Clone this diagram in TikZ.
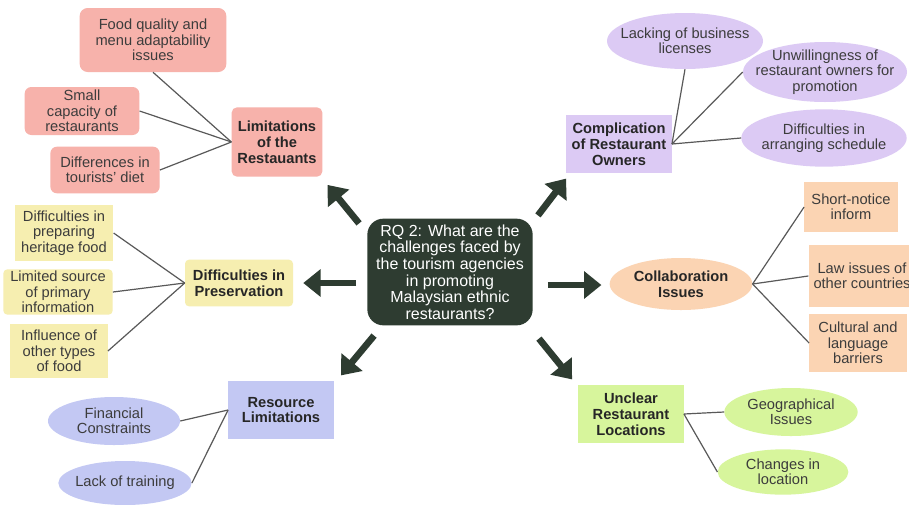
\documentclass[tikz,border=0pt]{standalone}
\usepackage{fontspec}
\setmainfont{Liberation Sans}
\definecolor{rqgreen}{HTML}{2E3C31}
\definecolor{salmon}{HTML}{F7B2AB}
\definecolor{lilac}{HTML}{DCCAF4}
\definecolor{butter}{HTML}{F6EEB0}
\definecolor{peach}{HTML}{FBD4B3}
\definecolor{periwinkle}{HTML}{C3C8F3}
\definecolor{sprout}{HTML}{D7F59C}
\definecolor{inkgray}{HTML}{3C3C3C}
\definecolor{wiregray}{HTML}{595959}
\usetikzlibrary{shapes.geometric,arrows.meta,calc}

\begin{document}
\begin{tikzpicture}[x=0.75pt,y=-0.75pt,
    leaf/.style={align=center,inner sep=0pt,text=inkgray,font=\fontsize{11}{11.6}\selectfont},
    leafbox/.style={leaf,rectangle},
    leafoval/.style={leaf,ellipse,inner xsep=-40pt,inner ysep=-20pt},
    topic/.style={align=center,inner sep=0pt,text=black!85,font=\fontsize{11}{11.9}\selectfont\bfseries},
    link/.style={wiregray,line width=0.9pt},
    bigarrow/.style={rqgreen,line width=5pt,-{Triangle[width=20pt,length=13pt]}}]
    \fill[white] (0,0) rectangle (909,504);
    \useasboundingbox (0,0) rectangle (909,504);
    % research question
    \node[rounded corners=12pt,fill=rqgreen,text=white,align=center,inner sep=0pt,
        minimum width=124pt,minimum height=80pt,font=\fontsize{12}{12.5}\selectfont]
        (rq) at (450,272) {RQ 2: What are the\\challenges faced by\\the tourism agencies\\in promoting\\Malaysian ethnic\\restaurants?};
    % main branches
    \node[topic,fill=salmon,rounded corners=4pt,minimum width=68pt,minimum height=52pt] (limits) at (277,142) {Limitations\\of the\\Restauants};
    \node[topic,fill=lilac,minimum width=79pt,minimum height=44pt] (owners) at (619,144) {Complication\\of Restaurant\\Owners};
    \node[topic,fill=butter,rounded corners=3pt,minimum width=81pt,minimum height=35pt] (preserve) at (239,283) {Difficulties in\\Preservation};
    \node[topic,fill=peach,ellipse,inner xsep=-40pt,inner ysep=-20pt,minimum width=107pt,minimum height=39pt] (collab) at (681,284) {Collaboration\\Issues};
    \node[topic,fill=periwinkle,minimum width=79pt,minimum height=44pt] (resource) at (281,410) {Resource\\Limitations};
    \node[topic,fill=sprout,minimum width=79pt,minimum height=44pt] (unclear) at (631,414) {Unclear\\Restaurant\\Locations};
    % leaves
    \node[leafbox,fill=salmon,rounded corners=6pt,minimum width=110pt,minimum height=48pt] (quality) at (153,40) {Food quality and\\menu adaptability\\issues};
    \node[leafbox,fill=salmon,rounded corners=5pt,minimum width=86pt,minimum height=36pt] (capacity) at (82,111) {Small\\capacity of\\restaurants};
    \node[leafbox,fill=salmon,rounded corners=5pt,minimum width=82pt,minimum height=35pt] (diet) at (105,170) {Differences in\\tourists' diet};
    \node[leafoval,fill=lilac,minimum width=117pt,minimum height=42pt] (licence) at (685,41) {Lacking of business\\licenses};
    \node[leafoval,fill=lilac,minimum width=123pt,minimum height=45pt] (unwilling) at (825,72) {Unwillingness of\\restaurant owners for\\promotion};
    \node[leafoval,fill=lilac,minimum width=124pt,minimum height=43pt] (schedule) at (824,138) {Difficulties in\\arranging schedule};
    \node[leafbox,fill=butter,minimum width=74pt,minimum height=42pt] (heritage) at (64,233) {Difficulties in\\preparing\\heritage food};
    \node[leafbox,fill=butter,rounded corners=3pt,minimum width=82pt,minimum height=34pt] (source) at (58,292) {Limited source\\of primary\\information};
    \node[leafbox,fill=butter,minimum width=73pt,minimum height=40pt] (influence) at (59,351) {Influence of\\other types\\of food};
    \node[leafbox,fill=peach,minimum width=70pt,minimum height=38pt] (notice) at (851,207) {Short-notice\\inform};
    \node[leafbox,fill=peach,minimum width=80pt,minimum height=46pt] (law) at (862,276) {Law issues of\\other countries};
    \node[leafbox,fill=peach,minimum width=73pt,minimum height=43pt] (culture) at (858,343) {Cultural and\\language\\barriers};
    \node[leafoval,fill=periwinkle,minimum width=99pt,minimum height=36pt] (funds) at (114,421) {Financial\\Constraints};
    \node[leafoval,fill=periwinkle,minimum width=100pt,minimum height=33pt] (training) at (125,483) {Lack of training};
    \node[leafoval,fill=sprout,minimum width=100pt,minimum height=36pt] (geo) at (791,412) {Geographical\\Issues};
    \node[leafoval,fill=sprout,minimum width=98pt,minimum height=34pt] (relocate) at (783,472) {Changes in\\location};
    % links
    \draw[link] (quality.south) -- (limits.west);
    \draw[link] (capacity.east) -- (limits.west);
    \draw[link] (diet.east) -- (limits.west);
    \draw[link] (licence.south) -- (owners.east);
    \draw[link] (unwilling.west) -- (owners.east);
    \draw[link] (schedule.west) -- (owners.east);
    \draw[link] (heritage.east) -- (preserve.west);
    \draw[link] (source.east) -- (preserve.west);
    \draw[link] (influence.east) -- (preserve.west);
    \draw[link] (notice.west) -- (collab.east);
    \draw[link] (law.west) -- (collab.east);
    \draw[link] (culture.west) -- (collab.east);
    \draw[link] (funds.east) -- (resource.west);
    \draw[link] (training.east) -- (resource.west);
    \draw[link] (geo.west) -- (unclear.east);
    \draw[link] (relocate.west) -- (unclear.east);
    % arrows out of the question
    \draw[bigarrow] ($(rq.north west)+(-8,5)$) -- ($(limits.south east)+(5,8)$);
    \draw[bigarrow] ($(rq.north east)+(5,-3)$) -- ($(owners.south west)+(0,5)$);
    \draw[bigarrow] ($(rq.west)+(-11,11)$) -- ($(preserve.east)+(10,0)$);
    \draw[bigarrow] ($(rq.east)+(15,13)$) -- ($(collab.west)+(-8,1)$);
    \draw[bigarrow] ($(rq.south west)+(7,10)$) -- ($(resource.north east)+(7,-5)$);
    \draw[bigarrow] ($(rq.south east)+(6,13)$) -- ($(unclear.north west)+(-6,-5)$);
\end{tikzpicture}
\end{document}
